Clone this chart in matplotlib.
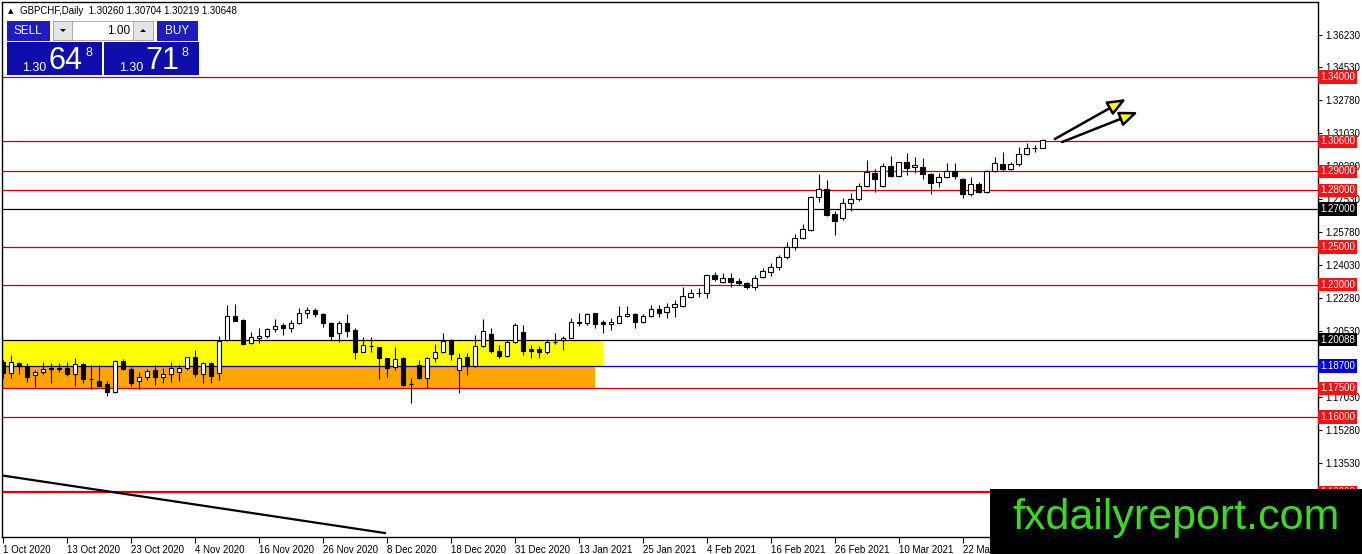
import numpy as np
import matplotlib.pyplot as plt
import matplotlib.transforms as mtransforms
from matplotlib.patches import Rectangle, Polygon

plt.rcParams['font.family'] = ['Liberation Sans', 'DejaVu Sans']

# GBPCHF daily candles, 1 Oct 2020 .. early Apr 2021
opens = [1.1890, 1.1832, 1.1885, 1.1869, 1.1822, 1.1837, 1.1859, 1.1853, 1.1859, 1.1827,
         1.1880, 1.1800, 1.1790, 1.1774, 1.1731, 1.1896, 1.1853, 1.1790, 1.1811, 1.1848,
         1.1811, 1.1827, 1.1837, 1.1859, 1.1917, 1.1827, 1.1885, 1.1832, 1.2007, 1.2134,
         1.2113, 1.1991, 1.2018, 1.2028, 1.2066, 1.2087, 1.2071, 1.2097, 1.2150, 1.2166,
         1.2145, 1.2097, 1.2044, 1.2097, 1.2060, 1.1943, 1.1975, 1.1970, 1.1912, 1.1864,
         1.1912, 1.1774, 1.1874, 1.1806, 1.1912, 1.1943, 1.2007, 1.1848, 1.1917, 1.1869,
         1.1975, 1.2039, 1.1949, 1.1922, 1.1997, 1.2050, 1.1959, 1.1959, 1.1943, 1.1997,
         1.2007, 1.2018, 1.2103, 1.2097, 1.2150, 1.2103, 1.2092, 1.2097, 1.2134, 1.2145,
         1.2103, 1.2134, 1.2172, 1.2156, 1.2182, 1.2187, 1.2235, 1.2256, 1.2256, 1.2352,
         1.2315, 1.2336, 1.2320, 1.2309, 1.2288, 1.2341, 1.2368, 1.2394, 1.2447, 1.2500,
         1.2548, 1.2590, 1.2765, 1.2807, 1.2675, 1.2654, 1.2733, 1.2754, 1.2823, 1.2892,
         1.2823, 1.2929, 1.2876, 1.2950, 1.2924, 1.2924, 1.2887, 1.2844, 1.2871, 1.2903,
         1.2860, 1.2781, 1.2834, 1.2791, 1.2903, 1.2940, 1.2913, 1.2940, 1.2993, 1.3024,
         1.30260]
highs = [1.1901, 1.1928, 1.1890, 1.1885, 1.1848, 1.1890, 1.1885, 1.1885, 1.1890, 1.1912,
         1.1885, 1.1874, 1.1874, 1.1790, 1.1901, 1.1906, 1.1864, 1.1837, 1.1853, 1.1874,
         1.1859, 1.1890, 1.1874, 1.1917, 1.1954, 1.1890, 1.1890, 1.2028, 1.2193, 1.2198,
         1.2118, 1.2050, 1.2071, 1.2071, 1.2118, 1.2097, 1.2113, 1.2177, 1.2182, 1.2177,
         1.2150, 1.2103, 1.2108, 1.2145, 1.2071, 1.2023, 1.2023, 1.1970, 1.1912, 1.1970,
         1.1917, 1.1806, 1.1901, 1.1917, 1.1986, 1.2044, 1.2012, 1.1938, 1.1938, 1.2034,
         1.2118, 1.2071, 1.1981, 1.2007, 1.2097, 1.2087, 1.1981, 1.1975, 1.2012, 1.2044,
         1.2028, 1.2124, 1.2150, 1.2150, 1.2150, 1.2113, 1.2124, 1.2187, 1.2187, 1.2150,
         1.2145, 1.2193, 1.2193, 1.2203, 1.2219, 1.2288, 1.2278, 1.2283, 1.2357, 1.2368,
         1.2362, 1.2362, 1.2336, 1.2315, 1.2352, 1.2389, 1.2415, 1.2458, 1.2527, 1.2569,
         1.2622, 1.2770, 1.2887, 1.2855, 1.2691, 1.2759, 1.2786, 1.2839, 1.2961, 1.2913,
         1.2945, 1.2982, 1.2950, 1.2998, 1.2977, 1.2971, 1.2892, 1.2892, 1.2945, 1.2945,
         1.2865, 1.2871, 1.2844, 1.2908, 1.2977, 1.3003, 1.2950, 1.3030, 1.3051, 1.3040,
         1.30704]
lows = [1.1806, 1.1806, 1.1827, 1.1784, 1.1758, 1.1827, 1.1779, 1.1837, 1.1816, 1.1763,
        1.1779, 1.1747, 1.1763, 1.1710, 1.1726, 1.1848, 1.1763, 1.1747, 1.1795, 1.1768,
        1.1779, 1.1784, 1.1790, 1.1848, 1.1811, 1.1779, 1.1779, 1.1795, 1.2002, 1.2108,
        1.1981, 1.1986, 1.1991, 1.2018, 1.2050, 1.2034, 1.2050, 1.2092, 1.2124, 1.2129,
        1.2076, 1.2007, 1.1997, 1.2023, 1.1906, 1.1943, 1.1943, 1.1800, 1.1811, 1.1848,
        1.1763, 1.1673, 1.1800, 1.1753, 1.1890, 1.1938, 1.1901, 1.1726, 1.1822, 1.1864,
        1.1970, 1.1938, 1.1912, 1.1917, 1.1991, 1.1928, 1.1912, 1.1912, 1.1933, 1.1986,
        1.1954, 1.2018, 1.2081, 1.2087, 1.2071, 1.2044, 1.2060, 1.2097, 1.2129, 1.2071,
        1.2097, 1.2129, 1.2129, 1.2124, 1.2129, 1.2182, 1.2230, 1.2235, 1.2230, 1.2320,
        1.2309, 1.2288, 1.2299, 1.2278, 1.2272, 1.2336, 1.2347, 1.2378, 1.2436, 1.2484,
        1.2542, 1.2585, 1.2738, 1.2664, 1.2564, 1.2643, 1.2691, 1.2744, 1.2818, 1.2791,
        1.2818, 1.2871, 1.2871, 1.2881, 1.2892, 1.2860, 1.2781, 1.2818, 1.2865, 1.2860,
        1.2759, 1.2770, 1.2786, 1.2786, 1.2897, 1.2903, 1.2908, 1.2929, 1.2987, 1.3003,
        1.30219]
closes = [1.1832, 1.1890, 1.1869, 1.1811, 1.1837, 1.1853, 1.1853, 1.1859, 1.1827, 1.1880,
          1.1800, 1.1800, 1.1763, 1.1731, 1.1896, 1.1853, 1.1779, 1.1811, 1.1843, 1.1811,
          1.1827, 1.1859, 1.1859, 1.1917, 1.1827, 1.1885, 1.1816, 1.2002, 1.2134, 1.2108,
          1.1986, 1.2023, 1.2028, 1.2066, 1.2081, 1.2071, 1.2097, 1.2150, 1.2166, 1.2145,
          1.2097, 1.2028, 1.2097, 1.2055, 1.1943, 1.1981, 1.1975, 1.1912, 1.1859, 1.1906,
          1.1768, 1.1774, 1.1806, 1.1912, 1.1943, 1.2002, 1.1933, 1.1912, 1.1869, 1.1975,
          1.2055, 1.1949, 1.1922, 1.1997, 1.2087, 1.1949, 1.1949, 1.1943, 1.1997, 1.1997,
          1.2018, 1.2103, 1.2097, 1.2145, 1.2092, 1.2092, 1.2103, 1.2134, 1.2145, 1.2103,
          1.2134, 1.2172, 1.2150, 1.2182, 1.2198, 1.2240, 1.2256, 1.2256, 1.2352, 1.2331,
          1.2336, 1.2315, 1.2309, 1.2288, 1.2336, 1.2373, 1.2394, 1.2447, 1.2500, 1.2548,
          1.2595, 1.2765, 1.2807, 1.2669, 1.2638, 1.2733, 1.2754, 1.2823, 1.2897, 1.2860,
          1.2929, 1.2876, 1.2950, 1.2918, 1.2934, 1.2887, 1.2839, 1.2871, 1.2903, 1.2876,
          1.2781, 1.2834, 1.2791, 1.2903, 1.2945, 1.2913, 1.2940, 1.2993, 1.3024, 1.3024,
          1.30648]

date_labels = ['1 Oct 2020', '13 Oct 2020', '23 Oct 2020', '4 Nov 2020', '16 Nov 2020',
               '26 Nov 2020', '8 Dec 2020', '18 Dec 2020', '31 Dec 2020', '13 Jan 2021',
               '25 Jan 2021', '4 Feb 2021', '16 Feb 2021', '26 Feb 2021', '10 Mar 2021',
               '22 Mar 2021']
date_idx = [8 * k for k in range(len(date_labels))]

# visible scale ticks (1.18780 and 1.11780 sit under the blue label / watermark)
price_ticks = [1.36230, 1.34530, 1.32780, 1.31030, 1.29280, 1.27530, 1.25780, 1.24030,
               1.22280, 1.20530, 1.17030, 1.15280, 1.13530]

red_levels = [1.34000, 1.30600, 1.29000, 1.28000, 1.25000, 1.23000, 1.17500, 1.16000]
black_levels = [1.27000, 1.20088]
blue_level = 1.18700
bottom_level = 1.12000

# zones (bar index end, price range)
yellow_zone = (75, 1.18700, 1.20088)
orange_zone = (74, 1.17500, 1.18700)
trend_pts = ([-0.4, 47.75], [1.1291, 1.0984])
arrows = [((131.5, 1.3072), (140.4, 1.3284)), ((132.4, 1.3056), (141.9, 1.3215))]

RED_LINE = '#c00000'
RED_BOX = '#f01414'

W, H = 1362, 554
fig = plt.figure(figsize=(W / 100, H / 100), dpi=100)
fig.patch.set_facecolor('white')
ax = fig.add_axes([2 / W, 17 / H, 1316 / W, 535 / H])
ax.set_xlim(-0.125, 164.4)
ax.set_ylim(1.0963, 1.3798)

x = np.arange(len(opens))
o = np.array(opens); c = np.array(closes)
ax.vlines(x, lows, highs, color='black', lw=0.8, zorder=4)
fc = ['white' if cc >= oo else 'black' for oo, cc in zip(o, c)]
ax.bar(x, np.abs(c - o), bottom=np.minimum(o, c), width=0.6, color=fc,
       edgecolor='black', linewidth=0.8, zorder=5)

# zones
ax.add_patch(Rectangle((-1, yellow_zone[1]), yellow_zone[0] + 1, yellow_zone[2] - yellow_zone[1],
                       facecolor='#ffff00', edgecolor='none', zorder=1))
ax.add_patch(Rectangle((-1, orange_zone[1]), orange_zone[0] + 1, orange_zone[2] - orange_zone[1],
                       facecolor='#ffa500', edgecolor='none', zorder=1))

for lv in red_levels:
    ax.axhline(lv, color=RED_LINE, lw=0.9, zorder=2)
for lv in black_levels:
    ax.axhline(lv, color='black', lw=0.9, zorder=2)
ax.axhline(blue_level, color='#0000c8', lw=0.9, zorder=2)
ax.axhline(bottom_level, color='#e00000', lw=1.6, zorder=2)

ax.plot(trend_pts[0], trend_pts[1], color='black', lw=1.6, zorder=3)

for (x0, y0), (x1, y1) in arrows:
    ax.annotate('', xy=(x1, y1), xytext=(x0, y0),
                arrowprops=dict(arrowstyle='-|>,head_length=1.1,head_width=0.45',
                                lw=1.8, color='black', fc='#ffff00', shrinkA=0, shrinkB=0),
                zorder=6)

# axes styling
for s in ax.spines.values():
    s.set_linewidth(1.0)
    s.set_color('black')
ax.yaxis.tick_right()
ax.set_yticks(price_ticks)
ax.set_yticklabels(['%.5f' % v for v in price_ticks], fontsize=7)
ax.tick_params(axis='y', direction='out', length=3, width=0.8, pad=2)
ax.set_xticks(date_idx)
ax.set_xticklabels(date_labels, fontsize=7, ha='left')
ax.tick_params(axis='x', direction='out', length=4, width=0.8, pad=2)

# level labels on price scale
blend = mtransforms.blended_transform_factory(ax.transAxes, ax.transData)
def level_label(v, fc):
    ax.text(1.0 + 2 / 1316, v, '%.5f' % v, transform=blend, fontsize=7, color='white',
            va='center', ha='left', clip_on=False, zorder=20,
            bbox=dict(boxstyle='square,pad=0.18', fc=fc, ec='none'))
for lv in red_levels + [bottom_level]:
    level_label(lv, RED_BOX)
for lv in black_levels:
    level_label(lv, 'black')
level_label(blue_level, '#0000e0')

# header
ax.text(6 / 1316, 1 - 9 / 535, '\u25b2', transform=ax.transAxes, fontsize=5, va='center',
        ha='left', family=['DejaVu Sans'])
ax.text(18 / 1316, 1 - 9 / 535, 'GBPCHF,Daily  %.5f %.5f %.5f %.5f'
        % (opens[-1], highs[-1], lows[-1], closes[-1]),
        transform=ax.transAxes, fontsize=7, va='center', ha='left')

# overlay in pixel coordinates: trade panel + watermark
ov = fig.add_axes([0, 0, 1, 1], zorder=10)
ov.set_xlim(0, W)
ov.set_ylim(H, 0)
ov.axis('off')
ov.patch.set_alpha(0)

btn = '#1c1cc0'
dark = '#0e0eaa'
ov.add_patch(Rectangle((5, 19), 195, 57, fc='white', ec='none'))
ov.add_patch(Rectangle((7, 21), 43, 20, fc=btn, ec='none'))
ov.text(28, 31, 'SELL', color='white', fontsize=8.5, ha='center', va='center')
ov.add_patch(Rectangle((157, 21), 41, 20, fc=btn, ec='none'))
ov.text(177, 31, 'BUY', color='white', fontsize=8.5, ha='center', va='center')
ov.add_patch(Rectangle((53, 21), 100, 19, fc='white', ec='#a0a0a0', lw=0.6))
ov.add_patch(Rectangle((53, 21), 19, 19, fc='#e4e4e4', ec='#a0a0a0', lw=0.6))
ov.add_patch(Rectangle((133, 21), 20, 19, fc='#e4e4e4', ec='#a0a0a0', lw=0.6))
ov.add_patch(Polygon([(60, 29), (66, 29), (63, 32)], closed=True, fc='black', ec='none'))
ov.add_patch(Polygon([(140, 32), (146, 32), (143, 29)], closed=True, fc='black', ec='none'))
ov.text(130, 30.5, '1.00', fontsize=8.5, ha='right', va='center')
ov.add_patch(Rectangle((7, 42), 95, 33, fc=dark, ec='none'))
ov.add_patch(Rectangle((104, 42), 95, 33, fc=dark, ec='none'))
for x0, big, small in [(22, '64', '8'), (119, '71', '8')]:
    ov.text(x0, 71, '1.30', color='white', fontsize=9, ha='left', va='baseline')
    ov.text(x0 + 26, 69, big, color='white', fontsize=22, ha='left', va='baseline')
    ov.text(x0 + 63, 56, small, color='white', fontsize=9, ha='left', va='baseline')

ov.add_patch(Rectangle((990, 489), W - 990, H - 489, fc='black', ec='none'))
ov.text(1176, 518, 'fxdailyreport.com', color='#3ada20', fontsize=31, ha='center', va='center')

fig.savefig('out.png', dpi=100)
